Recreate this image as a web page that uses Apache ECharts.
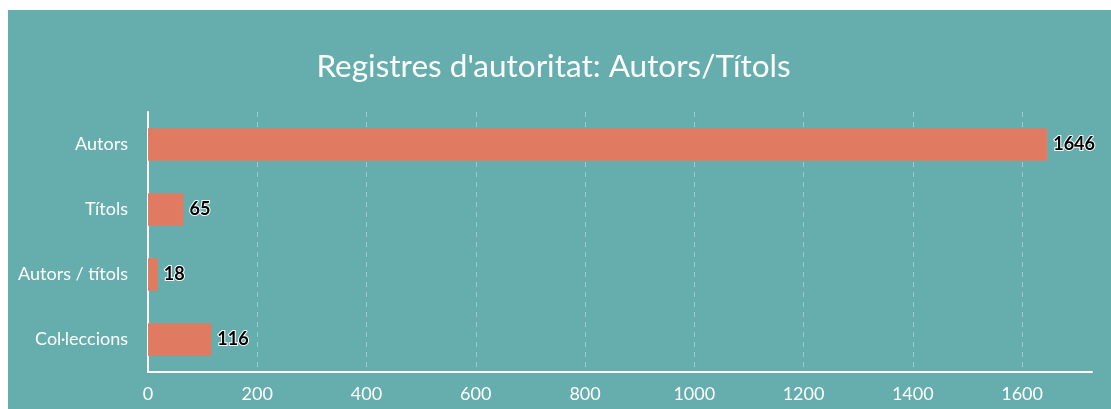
<!DOCTYPE html>
<html>
<head>
<meta charset="utf-8">
<script src="https://cdn.jsdelivr.net/npm/echarts@6/dist/echarts.min.js"></script>
<style>
  html, body { margin: 0; padding: 0; background: #fff; }
  #wrap { position: absolute; left: 8px; top: 10px; right: 0; bottom: 0; background: #66aead; overflow: hidden; }
  #chart { width: 1091px; height: 399px; }
</style>
</head>
<body>
<div id="wrap"><div id="chart"></div></div>
<script>
const categories = ["Autors", "Títols", "Autors / títols", "Col·leccions"];
const values = [1646, 65, 18, 116];
const titleText = "Registres d'autoritat: Autors/Títols";

const myChart = echarts.init(document.getElementById("chart"));
const option = {
  backgroundColor: "transparent",
  animation: false,
  textStyle: { fontFamily: "Lato" },
  title: {
    text: titleText,
    left: "center",
    top: 36,
    textStyle: {
      color: "#fff",
      fontFamily: "Lato",
      fontWeight: "normal",
      fontSize: 31.5,
    },
  },
  grid: {
    left: 140,
    right: 7,
    top: 102,
    bottom: 37,
  },
  xAxis: {
    type: "value",
    min: 0,
    max: 1728,
    interval: 200,
    axisLine: {
      show: true,
      lineStyle: { color: "#fff", width: 2 },
    },
    axisTick: { show: false },
    axisLabel: {
      color: "#fff",
      fontSize: 18,
      margin: 13,
      showMaxLabel: false,
      formatter: (v) => String(v),
    },
    splitLine: {
      show: true,
      showMinLine: false,
      showMaxLine: false,
      lineStyle: {
        color: "rgba(255,255,255,0.35)",
        type: [5, 5],
        width: 1,
      },
    },
  },
  yAxis: {
    type: "category",
    inverse: true,
    data: categories,
    axisLine: {
      show: true,
      lineStyle: { color: "#fff", width: 2 },
    },
    axisTick: { show: false },
    axisLabel: {
      color: "#fff",
      fontSize: 18,
      margin: 20,
    },
  },
  series: [
    {
      type: "bar",
      data: values,
      barWidth: "50%",
      itemStyle: { color: "#e07b61" },
      label: {
        show: true,
        position: "right",
        distance: 6,
        color: "#000",
        fontSize: 18,
        fontWeight: "bold",
        textBorderColor: "#fff",
        textBorderWidth: 2,
      },
    },
  ],
};
myChart.setOption(option);
</script>
</body>
</html>
